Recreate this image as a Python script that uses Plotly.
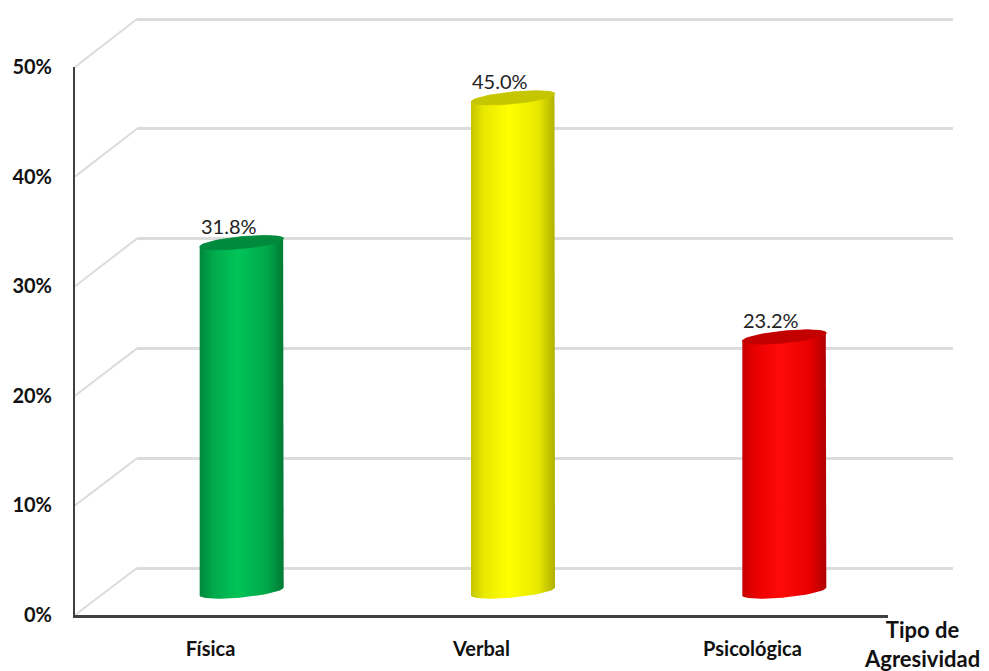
import numpy as np
import plotly.graph_objects as go

# datos
categorias = ["Física", "Verbal", "Psicológica"]
porcentajes = [0.318, 0.450, 0.232]
ticks_y = [0, 0.1, 0.2, 0.3, 0.4, 0.5]
eje_x_titulo = "Tipo de<br>Agresividad"

# colores de cada cilindro: borde izq, medio, brillo, borde der, tapa
colores = [
    ("#00863c", "#00a84a", "#00c458", "#007a34", "#008a3e"),
    ("#c4c400", "#e8e800", "#ffff00", "#b0b000", "#c6c600"),
    ("#c80000", "#e80000", "#ff0a0a", "#b00000", "#c20000"),
]

W, H = 989, 671
FONT = "Lato"
GRID = "#dcdcdc"
ymax = 0.5
pad_lo, pad_hi = 0.02, 0.01  # margen del rango para no recortar lineas ni elipses


def px_x(a):
    return a / W


def px_y(a):
    return (H - a) / H


def dominio_y(y0_px, y1_px):
    # y0_px: pixel del 0 %, y1_px: pixel de ymax; se amplia con el margen
    k = (y0_px - y1_px) / ymax
    return [px_y(y0_px + pad_lo * k), px_y(y1_px - pad_hi * k)]


rango_y = [-pad_lo, ymax + pad_hi]

# dominios (pared frontal, pared del fondo y plano medio de los cilindros)
front_x = [px_x(75), px_x(888)]
front_y = [px_y(615), px_y(67)]
back_x = [px_x(137), px_x(953)]
back_y = dominio_y(568, 19)
mid_x = [px_x(106), px_x(920)]
mid_y = dominio_y(591.5, 43)

n = len(categorias)
xr = [-0.5, n - 0.5]

# tamaño del cilindro en unidades de datos del plano medio
px_per_x = (920 - 106) / n
px_per_y = (591.5 - 43) / ymax
half_w = 42 / px_per_x
elip_h = 6 / px_per_y
elip_k = 4 / px_per_y

fig = go.Figure()

# trazas vacias para que se dibujen los ejes frontal y del fondo
for xa, ya in (("x", "y"), ("x2", "y2")):
    fig.add_trace(go.Scatter(
        x=[0], y=[0.1], mode="markers", marker=dict(opacity=0),
        xaxis=xa, yaxis=ya, hoverinfo="skip", showlegend=False,
    ))

for i, (cat, val) in enumerate(zip(categorias, porcentajes)):
    c_izq, c_med, c_bri, c_der, c_tapa = colores[i]
    t_bot = np.linspace(np.pi, 2 * np.pi, 40)
    t_top = np.linspace(0, np.pi, 40)
    xs = np.concatenate([i + half_w * np.cos(t_bot), i + half_w * np.cos(t_top)])
    ys = np.concatenate([
        elip_h * np.sin(t_bot) + elip_k * np.cos(t_bot),
        val + elip_h * np.sin(t_top) + elip_k * np.cos(t_top),
    ])
    fig.add_trace(go.Scatter(
        x=xs, y=ys, mode="lines", fill="toself",
        fillgradient=dict(
            type="horizontal",
            colorscale=[[0, c_izq], [0.15, c_med], [0.45, c_bri],
                        [0.8, c_med], [1, c_der]],
        ),
        line=dict(width=0), xaxis="x3", yaxis="y3",
        hoverinfo="skip", showlegend=False,
    ))
    t = np.linspace(0, 2 * np.pi, 80)
    fig.add_trace(go.Scatter(
        x=i + half_w * np.cos(t),
        y=val + elip_h * np.sin(t) + elip_k * np.cos(t),
        mode="lines", fill="toself", fillcolor=c_tapa,
        line=dict(width=0.6, color=c_tapa), xaxis="x3", yaxis="y3",
        hovertemplate=f"{cat}: {val:.1%}<extra></extra>", showlegend=False,
    ))
    fig.add_annotation(
        x=i, y=val, xref="x3", yref="y3", text=f"{val:.1%}",
        showarrow=False, yanchor="bottom", xshift=-13, yshift=3,
        font=dict(family=FONT, size=20, color="#222222"),
    )

# lineas diagonales de la pared lateral
bk = (568 - 19) / ymax
for v in ticks_y:
    fy = front_y[0] + v / ymax * (front_y[1] - front_y[0])
    by = px_y(568 - v * bk)
    fig.add_shape(
        type="line", xref="paper", yref="paper",
        x0=front_x[0], y0=fy, x1=back_x[0], y1=by,
        line=dict(color=GRID, width=2), layer="below",
    )

fig.add_annotation(
    x=px_x(922), y=px_y(644), xref="paper", yref="paper",
    text=f"<b>{eje_x_titulo}</b>", showarrow=False,
    xanchor="center", yanchor="middle", align="center",
    font=dict(family=FONT, size=22, color="#111111"),
)

tick_font = dict(family=FONT, size=20, color="#111111")

fig.update_layout(
    template="none",
    width=W, height=H,
    margin=dict(l=0, r=0, t=0, b=0, autoexpand=False),
    paper_bgcolor="white", plot_bgcolor="rgba(0,0,0,0)",
    xaxis=dict(
        domain=front_x, range=xr, anchor="y", automargin=False,
        tickvals=list(range(n)),
        ticktext=[f"<b>{c}</b>" for c in categorias],
        tickfont=tick_font, ticklabelstandoff=14,
        showline=True, linecolor="#404040", linewidth=2.5,
        showgrid=False, zeroline=False, ticks="",
    ),
    yaxis=dict(
        domain=front_y, range=[0, ymax], anchor="x", automargin=False,
        tickvals=ticks_y, ticktext=[f"<b>{v:.0%}</b>" for v in ticks_y],
        tickfont=tick_font, ticklabelstandoff=17,
        showline=True, linecolor="#404040", linewidth=2,
        showgrid=False, zeroline=False, ticks="",
    ),
    xaxis2=dict(
        domain=back_x, range=xr, anchor="y2", automargin=False,
        showticklabels=False, showline=False, showgrid=False, zeroline=False,
    ),
    yaxis2=dict(
        domain=back_y, range=rango_y, anchor="x2", automargin=False,
        tickvals=ticks_y, showticklabels=False,
        showgrid=True, gridcolor=GRID, gridwidth=2.5,
        zeroline=False, showline=False, ticks="",
    ),
    xaxis3=dict(
        domain=mid_x, range=xr, anchor="y3", automargin=False,
        visible=False, showgrid=False, zeroline=False,
    ),
    yaxis3=dict(
        domain=mid_y, range=rango_y, anchor="x3", automargin=False,
        visible=False, showgrid=False, zeroline=False,
    ),
)

fig.write_html(
    "out.html",
    config={"displayModeBar": False},
    post_script="document.body.style.margin='0';",
)
